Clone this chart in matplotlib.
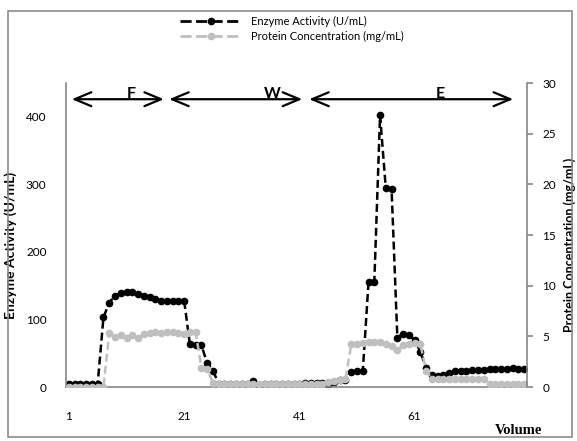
import matplotlib
matplotlib.use('Agg')
import matplotlib.pyplot as plt
import numpy as np
from matplotlib.patches import Rectangle, ArrowStyle
from matplotlib.lines import Line2D

plt.rcParams['font.family'] = ['Lato', 'DejaVu Sans']

# dane
volume = np.arange(1, 81)
enzyme = [5, 5, 5, 5, 5, 5, 103, 125, 135, 139,
          141, 141, 138, 135, 133, 130, 127, 127, 127, 127,
          128, 63, 62, 62, 35, 24, 5, 4, 4, 4,
          4, 4, 9, 0, 4, 4, 4, 5, 5, 5,
          5, 6, 6, 6, 6, -1, 7, 10, 11, 22,
          24, 23, 155, 155, 402, 294, 293, 73, 79, 77,
          70, 52, 28, 18, 16, 18, 21, 23, 24, 24,
          25, 25, 25, 26, 26, 26, 27, 28, 27, 26]
protein = [0, 0, 0, 0, 0, 0, 0, 5.3, 4.9, 5.1,
           4.8, 5.1, 4.8, 5.2, 5.3, 5.4, 5.3, 5.4, 5.4, 5.3,
           5.2, 5.4, 5.4, 1.9, 1.8, 0.4, 0.3, 0.3, 0.3, 0.3,
           0.3, 0.3, 0.3, 0.3, 0.3, 0.3, 0.3, 0.3, 0.3, 0.3,
           0.3, 0.3, 0.3, 0.3, 0.3, 0.5, 0.6, 0.7, 0.8, 4.2,
           4.2, 4.3, 4.4, 4.4, 4.4, 4.2, 4.0, 3.7, 4.1, 4.2,
           4.3, 4.2, 1.6, 0.8, 0.8, 0.8, 0.8, 0.8, 0.8, 0.8,
           0.8, 0.8, 0.8, 0.3, 0.3, 0.3, 0.3, 0.3, 0.3, 0.3]
x_ticks = [1, 21, 41, 61]
left_ticks = [0, 100, 200, 300, 400]
right_ticks = [0, 5, 10, 15, 20, 25, 30]
labels = ['Enzyme Activity (U/mL)', 'Protein Concentration (mg/mL)']

# fazy: F - feed, W - wash, E - elution
phases = ['F', 'W', 'E']
phase_start = [1.5, 18.4, 42.7]
phase_end = [17.5, 41.5, 78.1]
phase_label_x = [11.8, 36.3, 65.4]
arrow_y = 426

W, H = 577, 441
grey = '#868686'
light = '#bfbfbf'

fig = plt.figure(figsize=(W / 100, H / 100), dpi=100)
ax = fig.add_axes([66 / W, 54 / H, 461 / W, 304 / H])
ax2 = ax.twinx()

dash = (0, (3.2, 1.6))
ax.plot(volume, enzyme, color='black', lw=1.8, ls=dash, marker='o', ms=4.5)
ax2.plot(volume, protein, color=light, lw=1.8, ls=dash, marker='o', ms=4.5)

ax.set_xlim(0.5, 80.5)
ax.set_ylim(0, 450)
ax2.set_ylim(0, 30)
ax.set_xticks(x_ticks)
ax.set_yticks(left_ticks)
ax2.set_yticks(right_ticks)

for a in (ax, ax2):
    a.spines['top'].set_visible(False)
    for s in a.spines.values():
        s.set_color(grey)
        s.set_linewidth(1.2)
ax.spines['right'].set_visible(False)
ax2.spines['left'].set_visible(False)
ax2.spines['bottom'].set_visible(False)

ax.tick_params(axis='y', length=0, pad=14, labelsize=8.5)
ax.tick_params(axis='x', length=0, pad=17, labelsize=8.5)
ax2.tick_params(axis='y', length=4, width=1.2, color=grey, direction='out', pad=7, labelsize=8.5)

ax.set_ylabel(labels[0], fontsize=10, fontweight='bold')
ax.yaxis.set_label_coords(-0.106, 0.467)
ax2.set_ylabel(labels[1], fontsize=9, fontweight='bold')
ax2.yaxis.set_label_coords(1.079, 0.467)

fig.text(519 / W, 1 - 430 / H, 'Volume', family='Liberation Serif', weight='bold',
         size=10.5, ha='center', va='center')

# strzałki faz
style = ArrowStyle('<->', head_length=1.2, head_width=0.5)
for lab, s, e, lx in zip(phases, phase_start, phase_end, phase_label_x):
    ax2.annotate('', xy=(e, arrow_y), xytext=(s, arrow_y),
                 xycoords=ax.transData, textcoords=ax.transData,
                 arrowprops=dict(arrowstyle=style, lw=1.6, color='black',
                                 shrinkA=0, shrinkB=0),
                 annotation_clip=False)
    ax2.text(lx, arrow_y + 2.5, lab, transform=ax.transData, ha='center', va='baseline',
             fontsize=11.5, fontweight='bold', clip_on=False)

# legenda z dłuższymi kreskami
h1 = Line2D([], [], color='black', lw=2, ls=(0, (4, 1.6)), marker='o', ms=4.5)
h2 = Line2D([], [], color=light, lw=2, ls=(0, (4, 1.6)), marker='o', ms=4.5)
fig.legend([h1, h2], labels, loc='upper left',
           bbox_to_anchor=(180 / W, 1 - 16 / H), frameon=False, fontsize=8,
           handlelength=5.5, handletextpad=0.9, labelspacing=0.35,
           borderpad=0, borderaxespad=0)

fig.patches.append(Rectangle((8 / W, 1 - 437 / H), (572 - 8) / W, (437 - 11) / H,
                             transform=fig.transFigure, fill=False,
                             ec='#8c8c8c', lw=1.2))

fig.savefig('out.png', dpi=100)
